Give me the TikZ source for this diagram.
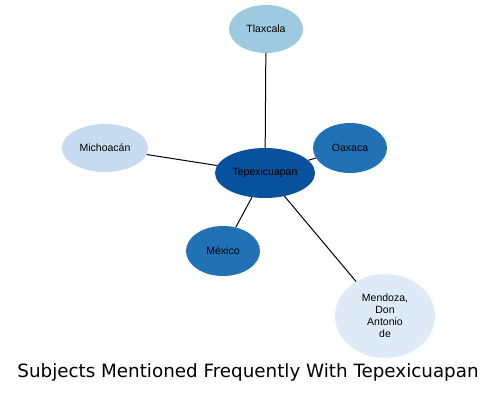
\documentclass[tikz,border=0pt]{standalone}
\usepackage{fontspec}
\setmainfont{Liberation Sans}
\newfontfamily\titlefont{DejaVu Sans}
\usetikzlibrary{shapes.geometric}
\definecolor{c1}{HTML}{08519C}
\definecolor{c2}{HTML}{2171B5}
\definecolor{c3}{HTML}{9ECAE1}
\definecolor{c4}{HTML}{C6DBEF}
\definecolor{c5}{HTML}{DEEBF7}
\tikzset{
  bub/.style={ellipse, inner sep=0pt, font=\fontsize{10.5}{12}\selectfont, text=black, align=center},
  edge/.style={draw=black, line width=1pt}
}
\begin{document}
\begin{tikzpicture}[x=1pt,y=-1pt]
\useasboundingbox[fill=white] (0,0) rectangle (497,394);
\node[bub, fill=c3, minimum width=74pt, minimum height=48pt] (tla) at (266,29) {Tlaxcala};
\node[bub, fill=c4, minimum width=86pt, minimum height=48pt] (mic) at (105,148) {Michoacán};
\node[bub, fill=c1, minimum width=100pt, minimum height=50pt] (tep) at (265,173) {Tepexicuapan};
\node[bub, fill=c2, minimum width=74pt, minimum height=50pt] (oax) at (350,148) {Oaxaca};
\node[bub, fill=c2, minimum width=74pt, minimum height=50pt] (mex) at (223,251) {México};
\node[bub, fill=c5, minimum width=100pt, minimum height=84pt, font=\fontsize{10.5}{12}\selectfont] (men) at (385,316) {Mendoza,\\Don\\Antonio\\de};
\draw[edge] (tep) -- (tla);
\draw[edge] (tep) -- (mic);
\draw[edge] (tep) -- (oax);
\draw[edge] (tep) -- (mex);
\draw[edge] (tep) -- (men);
\node[font=\titlefont\fontsize{18.3}{22}\selectfont, text=black] (title) at (248,372) {Subjects Mentioned Frequently With Tepexicuapan};
\end{tikzpicture}
\end{document}
